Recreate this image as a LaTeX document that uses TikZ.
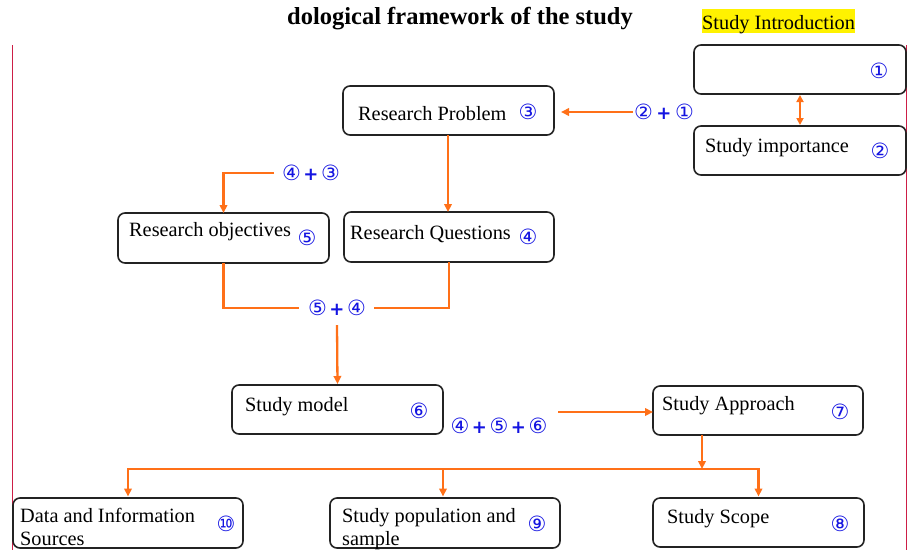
\documentclass[tikz,border=0pt]{standalone}
\usepackage{fontspec}
\setmainfont{Liberation Serif}
\newfontfamily\dejavu{DejaVu Sans}
\usetikzlibrary{arrows.meta}
\definecolor{orng}{RGB}{255,112,24}
\definecolor{nblue}{RGB}{20,20,225}
\definecolor{redln}{RGB}{205,30,70}
\definecolor{boxln}{RGB}{35,35,35}
\newcommand{\cn}[1]{\makebox[19.5pt]{\dejavu\fontsize{21}{21}\selectfont #1}}
\newcommand{\pl}{\makebox[19.5pt]{\dejavu\bfseries\fontsize{18}{18}\selectfont +}}
\begin{document}
\begin{tikzpicture}[x=1pt,y=-1pt,
  box/.style={draw=boxln, line width=1.6pt, rounded corners=7pt, inner sep=0pt, outer sep=0pt},
  txt/.style={inner sep=0pt, anchor=base west, font=\fontsize{20.3}{22}\selectfont},
  num/.style={inner sep=0pt, text=nblue, font=\dejavu\fontsize{21}{21}\selectfont},
  lbl/.style={inner sep=0pt, text=nblue},
  conn/.style={draw=orng, line width=2.3pt, line join=miter},
  arr/.style={conn, -{Triangle[length=8pt,width=7.5pt]}},
  darr/.style={conn, {Triangle[length=7pt,width=7pt]}-{Triangle[length=7pt,width=7pt]}},
  redline/.style={draw=redln, line width=1pt}
]
\useasboundingbox (0,0) rectangle (910,550);

% side lines
\coordinate (lt) at (12,45); \coordinate (lb) at (12,550);
\coordinate (rt) at (906,45); \coordinate (rb) at (906,550);
\draw[redline] (lt) -- (lb);
\draw[redline] (rt) -- (rb);

% title
\node[inner sep=0pt, anchor=base, font=\bfseries\fontsize{24.5}{26}\selectfont] (title) at (460,24) {dological framework of the study};
\node[txt, fill=yellow, text height=20pt, text depth=4pt] (tIntro) at (702,29) {Study Introduction};

% boxes
\node[box, minimum width=212pt, minimum height=49pt] (intro) at (800,69.5) {};
\node[box, minimum width=212pt, minimum height=49pt] (imp) at (800,150.5) {};
\node[box, minimum width=211pt, minimum height=49pt] (rp) at (448.5,110.5) {};
\node[box, minimum width=211pt, minimum height=50pt] (ro) at (223.5,238) {};
\node[box, minimum width=210pt, minimum height=50pt] (rq) at (449,237) {};
\node[box, minimum width=211pt, minimum height=49pt] (sm) at (337.5,409.5) {};
\node[box, minimum width=210pt, minimum height=49pt] (sa) at (758,410.5) {};
\node[box, minimum width=230pt, minimum height=50pt] (ds) at (128,523) {};
\node[box, minimum width=230pt, minimum height=50pt] (sp) at (445,523) {};
\node[box, minimum width=211pt, minimum height=49pt] (ss) at (758.5,522.5) {};

% box texts
\node[num] (n1) at (879,71) {①};
\node[txt] (tImp) at (705,152) {Study importance};
\node[num] (n2) at (880,151) {②};
\node[txt] (tRP) at (358,120) {Research Problem};
\node[num] (n3) at (528,112) {③};
\node[txt] (tRO) at (129,236) {Research objectives};
\node[num] (n5) at (307,238) {⑤};
\node[txt] (tRQ) at (350,239) {Research Questions};
\node[num] (n4) at (528,237) {④};
\node[txt] (tSM) at (245,411) {Study model};
\node[num] (n6) at (419,411) {⑥};
\node[txt] (tSA) at (662,410) {Study Approach};
\node[num] (n7) at (840,412) {⑦};
\node[txt] (tDS1) at (20,522) {Data and Information};
\node[txt] (tDS2) at (20,545) {Sources};
\node[num] (n10) at (226,524) {⑩};
\node[txt] (tSP1) at (342,522) {Study population and};
\node[txt] (tSP2) at (342,545) {sample};
\node[num] (n9) at (537,524) {⑨};
\node[txt] (tSS) at (667,523) {Study Scope};
\node[num] (n8) at (840,524) {⑧};

% combination labels
\node[lbl] (l21) at (664,112) {\makebox[20.5pt]{\dejavu\fontsize{21}{21}\selectfont ②}\makebox[20.5pt]{\dejavu\bfseries\fontsize{18}{18}\selectfont +}\makebox[20.5pt]{\dejavu\fontsize{21}{21}\selectfont ①}};
\node[lbl] (l43) at (311,173) {\cn{④}\pl\cn{③}};
\node[lbl] (l54) at (337,308) {\cn{⑤}\pl\cn{④}};
\node[lbl] (l456) at (499,426) {\cn{④}\pl\cn{⑤}\pl\cn{⑥}};

% connectors
\coordinate (c21) at (633,112);
\coordinate (c21t) at (561,112);
\draw[arr] (c21) -- (c21t);

\draw[darr, shorten >=1pt, shorten <=1pt] (intro.south) -- (imp.north);

\coordinate (x448) at (448,0);
\draw[arr] (rp.south -| x448) -- (rq.north -| x448);

\coordinate (c43) at (274,173);
\draw[arr] (c43) -| (ro.north);

\coordinate (c54a) at (299,308);
\coordinate (c54b) at (374,308);
\draw[conn] (ro.south) |- (c54a);
\draw[conn] (c54b) -| (rq.south);
\coordinate (c54d) at (337,325);
\draw[arr, shorten >=1pt] (c54d) -- (sm.north);

\coordinate (c456) at (558,412);
\draw[arr] (c456) -- (sa.west |- c456);

\coordinate (jn) at (702,469);
\draw[arr] (sa.south -| jn) -- (jn);
\coordinate (hm) at (443,469);
\draw[arr, shorten >=1.5pt] (hm) -| (ds.north);
\draw[arr, shorten >=1.5pt] (hm) -| (ss.north);
\draw[arr, shorten >=1.5pt] (hm) -- (sp.north -| hm);
\end{tikzpicture}
\end{document}
